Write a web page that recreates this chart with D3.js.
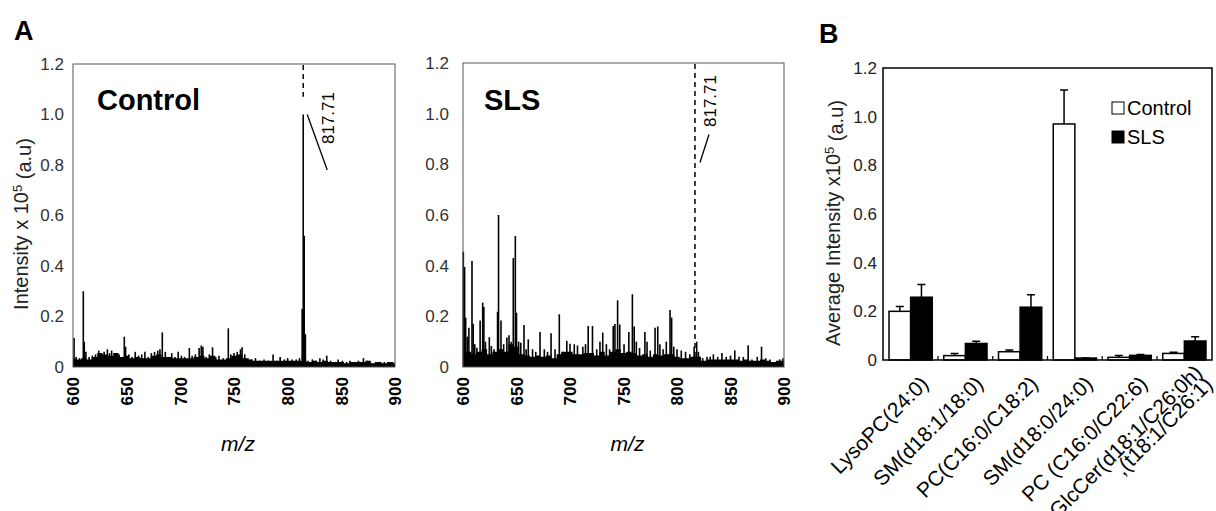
<!DOCTYPE html>
<html>
<head>
<meta charset="utf-8">
<script src="https://cdn.jsdelivr.net/npm/d3@7"></script>
<style>
  body { margin: 0; background: #fff; }
  svg { font-family: "Liberation Sans", Arial, sans-serif; }
</style>
</head>
<body>
<div id="fig"></div>
<script>
// ---- data ----
const mzTicks = [600, 650, 700, 750, 800, 850, 900];
const intTicks = [0, 0.2, 0.4, 0.6, 0.8, 1.0, 1.2];

// baseline envelope, one value per 5 m/z
const envMz = [600,605,610,615,620,625,630,635,640,645,650,655,660,665,670,675,680,685,690,695,
  700,705,710,715,720,725,730,735,740,745,750,755,760,765,770,775,780,785,790,795,
  800,805,810,815,820,825,830,835,840,845,850,855,860,865,870,875,880,885,890,895,900];
const controlEnv = [0.035,0.03,0.035,0.03,0.04,0.055,0.05,0.045,0.055,0.04,0.045,0.035,0.04,0.035,0.035,0.045,0.05,0.04,0.04,0.035,
  0.035,0.035,0.035,0.04,0.045,0.035,0.045,0.03,0.03,0.035,0.045,0.05,0.035,0.03,0.025,0.025,0.025,0.025,0.025,0.025,
  0.025,0.025,0.025,0.025,0.02,0.025,0.02,0.025,0.02,0.02,0.02,0.015,0.02,0.02,0.02,0.025,0.015,0.02,0.015,0.02,0.015];
const slsEnv = [0.10,0.06,0.05,0.06,0.07,0.05,0.06,0.07,0.06,0.09,0.08,0.05,0.045,0.04,0.045,0.04,0.045,0.035,0.05,0.06,
  0.06,0.05,0.05,0.055,0.055,0.045,0.06,0.045,0.06,0.07,0.055,0.06,0.055,0.045,0.05,0.04,0.05,0.045,0.05,0.05,
  0.04,0.035,0.035,0.04,0.04,0.025,0.03,0.03,0.03,0.03,0.03,0.03,0.025,0.03,0.025,0.025,0.03,0.025,0.02,0.025,0.025];

// individual peaks [m/z, intensity x1e5]
const controlPeaks = [[601,0.115],[603,0.04],[606,0.035],[609.6,0.30],[610.5,0.10],[612,0.06],[615,0.04],[618,0.045],
  [621,0.05],[624,0.065],[626,0.055],[629,0.06],[632,0.07],[634,0.055],[636,0.065],[640,0.045],[643,0.05],
  [647.8,0.12],[649,0.08],[652,0.05],[655,0.04],[658,0.06],[661,0.045],[664,0.05],[667,0.06],[670,0.04],
  [673,0.055],[676,0.06],[679,0.065],[681,0.07],[683.2,0.137],[686,0.06],[689,0.04],[692,0.055],[695,0.04],
  [698,0.06],[701,0.045],[704,0.04],[708.4,0.075],[711,0.045],[714,0.05],[717.5,0.075],[719.5,0.085],[721,0.08],
  [724,0.04],[727,0.05],[730,0.078],[733,0.04],[736,0.045],[740,0.035],[744.7,0.153],[747,0.05],[750,0.055],
  [753,0.06],[756,0.07],[757.5,0.078],[760,0.05],[763,0.035],[766,0.03],[770,0.035],[774,0.025],[778,0.03],
  [782,0.025],[786.4,0.05],[790,0.025],[793,0.04],[797,0.03],[800,0.035],[804,0.03],[808,0.03],[811,0.035],
  [813.5,0.23],[814.5,1.0],[815.4,0.52],[816.5,0.13],[819,0.025],[823,0.03],[826,0.025],[830,0.035],[833,0.03],
  [836.4,0.045],[840,0.025],[844,0.02],[847,0.03],[851,0.025],[855,0.02],[858,0.025],[862,0.02],[866,0.025],
  [870.6,0.035],[874,0.025],[878,0.015],[882,0.02],[886,0.015],[890,0.02],[895,0.015],[898,0.02]];
const slsPeaks = [[600.3,0.455],[601.5,0.395],[602.5,0.195],[604,0.12],[605.5,0.155],[608.4,0.418],[609.5,0.171],
  [611,0.09],[613,0.076],[616,0.184],[618.4,0.254],[619.5,0.237],[621,0.1],[624.6,0.118],[626.5,0.083],[629,0.07],
  [632.3,0.218],[633.2,0.6],[635.5,0.184],[638,0.09],[641,0.116],[643,0.125],[645,0.1],[647,0.43],[648.9,0.517],
  [650,0.214],[652,0.1],[654,0.096],[657,0.166],[659,0.07],[661,0.109],[665,0.07],[668,0.06],[672,0.138],
  [676,0.07],[679,0.06],[682.3,0.133],[686,0.07],[690,0.208],[692.5,0.06],[697,0.103],[700,0.092],[704,0.09],
  [707,0.085],[712,0.08],[714.5,0.09],[717,0.162],[721,0.162],[725,0.07],[728,0.1],[730.6,0.136],[734,0.09],
  [737,0.07],[740.4,0.162],[742,0.17],[744.5,0.263],[746.5,0.168],[750.5,0.09],[755,0.138],[758.3,0.287],
  [760,0.16],[762,0.1],[765,0.075],[770,0.138],[772,0.1],[775,0.065],[779.5,0.155],[782,0.16],[784,0.09],
  [787,0.07],[790,0.1],[793.5,0.225],[795,0.195],[797,0.08],[800,0.07],[804,0.065],[808,0.06],[812,0.05],
  [816,0.08],[818.4,0.1],[820,0.06],[824,0.035],[828,0.04],[831,0.04],[834,0.05],[838,0.04],[842,0.055],
  [846,0.04],[850,0.045],[854,0.066],[858,0.04],[862,0.04],[866.5,0.086],[870,0.03],[875,0.04],[879,0.08],
  [883,0.035],[887,0.03],[892,0.02],[896,0.03],[899,0.035]];

// panel B
const lipids = ["LysoPC(24:0)", "SM(d18:1/18:0)", "PC(C16:0/C18:2)", "SM(d18:0/24:0)",
  "PC (C16:0/C22:6)", "GlcCer(d18:1/C26:0h)|,(t18:1/C26:1)"];
const controlMean = [0.20, 0.018, 0.034, 0.97, 0.011, 0.027];
const controlErr  = [0.22, 0.027, 0.041, 1.11, 0.018, 0.032];
const slsMean     = [0.258, 0.068, 0.217, 0.008, 0.019, 0.078];
const slsErr      = [0.31, 0.077, 0.268, 0.008, 0.023, 0.096];
const groups = ["Control", "SLS"];

const svg = d3.select("#fig").append("svg")
  .attr("width", 1216).attr("height", 511);

// panel letters
svg.append("text").attr("x", 14).attr("y", 40).style("font-size", "27px").style("font-weight", "bold").text("A");
svg.append("text").attr("x", 819).attr("y", 43).style("font-size", "27px").style("font-weight", "bold").text("B");

// ========== spectra ==========
function spectrum(cfg) {
  const x = d3.scaleLinear().domain([600, 900]).range([cfg.left, cfg.right]);
  const y = d3.scaleLinear().domain([0, 1.2]).range([cfg.bottom, cfg.top]);
  const g = svg.append("g");

  const env = envMz.map((m, i) => ({ mz: m, v: cfg.env[i] }));
  g.append("path")
    .datum(env)
    .attr("fill", "#000")
    .attr("d", d3.area().curve(d3.curveStep).x(d => x(d.mz)).y0(y(0)).y1(d => y(d.v)));

  g.selectAll(".pk").data(cfg.peaks).enter().append("line")
    .attr("x1", d => x(d[0])).attr("x2", d => x(d[0]))
    .attr("y1", y(0)).attr("y2", d => y(d[1]))
    .attr("stroke", "#000").attr("stroke-width", 1.6);

  // frame
  g.append("rect")
    .attr("x", cfg.left).attr("y", cfg.top)
    .attr("width", cfg.right - cfg.left).attr("height", cfg.bottom - cfg.top)
    .attr("fill", "none").attr("stroke", "#555").attr("stroke-width", 1);

  const ya = g.append("g")
    .attr("transform", `translate(${cfg.left},0)`)
    .call(d3.axisLeft(y).tickValues(intTicks).tickSize(0).tickPadding(cfg.pad)
      .tickFormat(d => d === 0 ? "0" : d.toFixed(1)));
  ya.select(".domain").remove();
  ya.selectAll("text").style("font-size", "17px").attr("fill", "#333").attr("font-family", null);

  const xa = g.append("g")
    .attr("transform", `translate(0,${cfg.bottom})`)
    .call(d3.axisBottom(x).tickValues(mzTicks).tickSize(0));
  xa.select(".domain").remove();
  xa.selectAll("text")
    .attr("y", null).attr("dy", "0.35em")
    .attr("transform", "translate(0,10) rotate(-90)")
    .style("text-anchor", "end")
    .style("font-size", "17px").style("font-weight", "bold")
    .attr("fill", "#000").attr("font-family", null);

  g.append("text")
    .attr("x", (cfg.left + cfg.right) / 2 + 4).attr("y", 451)
    .attr("text-anchor", "middle")
    .style("font-size", "21px").style("font-style", "italic")
    .text("m/z");

  g.append("text")
    .attr("x", cfg.left + cfg.titleDx).attr("y", 110)
    .style("font-size", "29px").style("font-weight", "bold")
    .text(cfg.title);

  // 817.71 marker
  const xm = x(cfg.markMz);
  g.append("line")
    .attr("x1", xm).attr("x2", xm).attr("y1", cfg.top + 1).attr("y2", y(cfg.dashEnd))
    .attr("stroke", "#000").attr("stroke-width", 1.5).attr("stroke-dasharray", "5,4");
  g.append("line")
    .attr("x1", xm + cfg.lead[0]).attr("y1", y(cfg.lead[1]))
    .attr("x2", xm + cfg.lead[2]).attr("y2", y(cfg.lead[3]))
    .attr("stroke", "#000").attr("stroke-width", 1.3);
  g.append("text")
    .attr("transform", `translate(${xm + cfg.labDx},${cfg.labY}) rotate(-90)`)
    .style("font-size", "17px")
    .text("817.71");
  return g;
}

spectrum({ left: 73, right: 395, top: 64, bottom: 367, pad: 9, env: controlEnv, peaks: controlPeaks,
  title: "Control", titleDx: 24, markMz: 814.5, dashEnd: 1.07, lead: [4, 1.0, 24, 0.78], labDx: 31, labY: 144 });
spectrum({ left: 463, right: 784, top: 63, bottom: 367, pad: 14, env: slsEnv, peaks: slsPeaks,
  title: "SLS", titleDx: 21, markMz: 816.8, dashEnd: 0.035, lead: [5, 0.807, 14, 0.918], labDx: 21, labY: 127 });

// y title panel A
const ta = svg.append("text")
  .attr("transform", "translate(28,224) rotate(-90)")
  .attr("text-anchor", "middle")
  .style("font-size", "20px").attr("fill", "#222");
ta.append("tspan").text("Intensity x 10");
ta.append("tspan").attr("dy", "-0.45em").style("font-size", "13px").text("5");
ta.append("tspan").attr("dy", "0.45em").text(" (a.u)");

// ========== panel B ==========
const bl = 883, br = 1212, bt = 68, bb = 360;
const xB = d3.scaleBand().domain(lipids).range([bl, br]).paddingInner(0.21).paddingOuter(0.11);
const xSub = d3.scaleBand().domain(groups).range([0, xB.bandwidth()]);
const yB = d3.scaleLinear().domain([0, 1.2]).range([bb, bt]);

const rows = lipids.map((l, i) => ({
  lipid: l,
  vals: [
    { g: "Control", v: controlMean[i], e: controlErr[i] },
    { g: "SLS", v: slsMean[i], e: slsErr[i] }
  ]
}));

const gB = svg.append("g");
const grp = gB.selectAll(".grp").data(rows).enter().append("g")
  .attr("transform", d => `translate(${xB(d.lipid)},0)`);

grp.selectAll(".err").data(d => d.vals).enter().append("path")
  .attr("fill", "none").attr("stroke", "#000").attr("stroke-width", 1.5)
  .attr("d", d => {
    const cx = xSub(d.g) + xSub.bandwidth() / 2;
    return `M${cx},${yB(d.v)}V${yB(d.e)}M${cx - 4},${yB(d.e)}H${cx + 4}`;
  });

grp.selectAll(".bar").data(d => d.vals).enter().append("rect")
  .attr("x", d => xSub(d.g))
  .attr("y", d => yB(d.v))
  .attr("width", xSub.bandwidth())
  .attr("height", d => yB(0) - yB(d.v))
  .attr("fill", d => d.g === "Control" ? "#fff" : "#000")
  .attr("stroke", "#000").attr("stroke-width", 1.5);

gB.append("rect")
  .attr("x", bl).attr("y", bt).attr("width", br - bl).attr("height", bb - bt)
  .attr("fill", "none").attr("stroke", "#000").attr("stroke-width", 1.5);

// small separators between groups
const sepX = lipids.slice(1).map(l => xB(l) - xB.step() * xB.paddingInner() / 2);
gB.selectAll(".sep").data(sepX).enter().append("line")
  .attr("x1", d => d).attr("x2", d => d).attr("y1", bb).attr("y2", bb - 4)
  .attr("stroke", "#000").attr("stroke-width", 1.2);

const yaB = gB.append("g")
  .attr("transform", `translate(${bl},0)`)
  .call(d3.axisLeft(yB).tickValues(intTicks).tickSize(0).tickPadding(6)
    .tickFormat(d => d === 0 ? "0" : d.toFixed(1)));
yaB.select(".domain").remove();
yaB.selectAll("text").style("font-size", "17px").attr("fill", "#222").attr("font-family", null);

const xaB = gB.append("g")
  .attr("transform", `translate(0,${bb})`)
  .call(d3.axisBottom(xB).tickSize(0));
xaB.select(".domain").remove();
xaB.selectAll("text").remove();
xaB.selectAll(".tick").append("text")
  .attr("transform", "translate(19,25) rotate(-45)")
  .attr("text-anchor", "end")
  .attr("fill", "#000")
  .style("font-size", "21px")
  .each(function(d) {
    const parts = d.split("|");
    const t = d3.select(this);
    if (parts.length === 1) {
      t.text(d);
    } else {
      t.append("tspan").attr("x", 8).attr("dy", -8).text(parts[0]);
      t.append("tspan").attr("x", 7).attr("dy", 16).text(parts[1]);
    }
  });

const tb = svg.append("text")
  .attr("transform", "translate(840,223) rotate(-90)")
  .attr("text-anchor", "middle")
  .style("font-size", "20px").attr("fill", "#222");
tb.append("tspan").text("Average Intensity x10");
tb.append("tspan").attr("dy", "-0.45em").style("font-size", "13px").text("5");
tb.append("tspan").attr("dy", "0.45em").text(" (a.u)");

// legend
const leg = svg.append("g").selectAll("g").data(groups).enter().append("g")
  .attr("transform", (d, i) => `translate(1112,${102 + i * 29})`);
leg.append("rect").attr("width", 12).attr("height", 12)
  .attr("fill", d => d === "Control" ? "#fff" : "#000").attr("stroke", "#000").attr("stroke-width", 1);
leg.append("text").attr("x", 15).attr("y", 13).style("font-size", "20px").text(d => d);
</script>
</body>
</html>
